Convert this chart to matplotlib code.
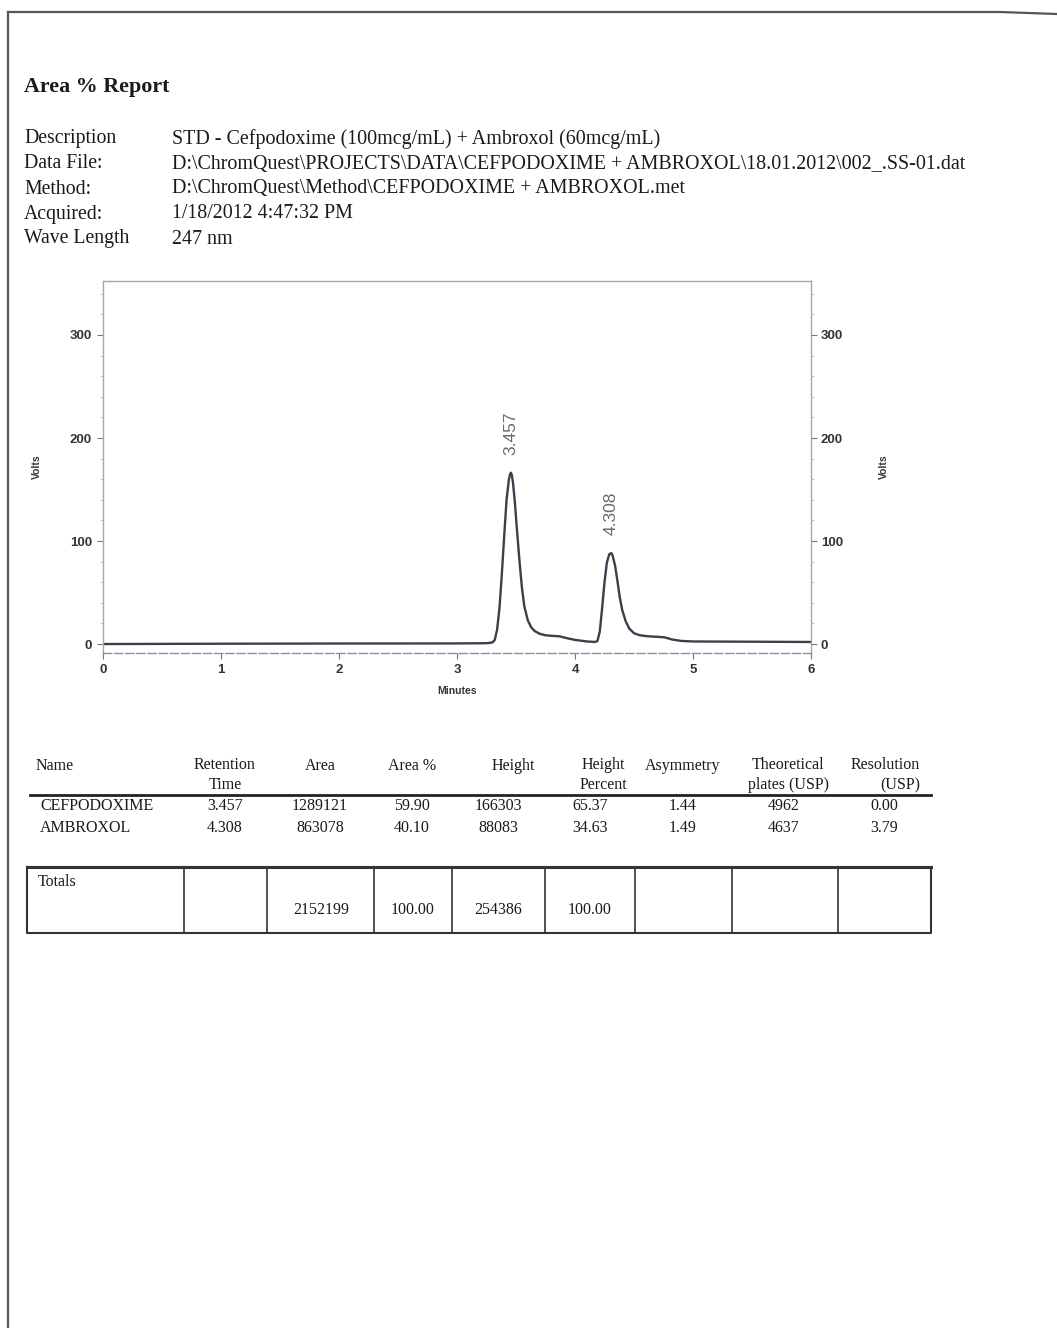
import matplotlib
matplotlib.use("Agg")
import matplotlib.pyplot as plt
from matplotlib.ticker import MultipleLocator

W, H = 1057, 1328

# ---------------- data ----------------
title = "Area % Report"
info_labels = ["Description", "Data File:", "Method:", "Acquired:", "Wave Length"]
info_values = [
    "STD - Cefpodoxime (100mcg/mL) + Ambroxol (60mcg/mL)",
    "D:\\ChromQuest\\PROJECTS\\DATA\\CEFPODOXIME + AMBROXOL\\18.01.2012\\002_.SS-01.dat",
    "D:\\ChromQuest\\Method\\CEFPODOXIME + AMBROXOL.met",
    "1/18/2012 4:47:32 PM",
    "247 nm",
]

# chromatogram trace (minutes, volts)
trace_t = [0.0, 1.0, 2.0, 3.0, 3.25, 3.30, 3.32, 3.34, 3.36, 3.38, 3.40, 3.42, 3.44, 3.45,
           3.457, 3.465, 3.475, 3.49, 3.51, 3.53, 3.55, 3.57, 3.60, 3.63, 3.66, 3.70, 3.75,
           3.80, 3.87, 3.92, 4.00, 4.10, 4.17, 4.19, 4.21, 4.23, 4.25, 4.27, 4.29, 4.30,
           4.308, 4.315, 4.325, 4.34, 4.36, 4.38, 4.40, 4.43, 4.46, 4.50, 4.55, 4.62, 4.70,
           4.76, 4.82, 4.90, 5.00, 6.00]
trace_v = [0.0, 0.3, 0.5, 0.6, 0.8, 1.5, 4, 14, 35, 68, 105, 140, 160, 165,
           166.3, 164, 156, 138, 108, 80, 55, 37, 23, 16, 12.5, 10, 8.5,
           8, 7.5, 6, 4, 2.5, 2, 3, 12, 35, 60, 79, 87, 88,
           88.1, 87, 83, 76, 61, 45, 33, 22, 15, 10.5, 8.5, 7.5, 7,
           6.5, 4.5, 3, 2.5, 2]
peak_times = [3.457, 4.308]
peak_heights = [166.3, 88.1]
x_ticks = [0, 1, 2, 3, 4, 5, 6]
y_ticks = [0, 100, 200, 300]

col_headers = ["Name", "Retention\nTime", "Area", "Area %", "Height", "Height\nPercent",
               "Asymmetry", "Theoretical\nplates (USP)", "Resolution\n(USP)"]
names = ["CEFPODOXIME", "AMBROXOL"]
ret_time = ["3.457", "4.308"]
area = ["1289121", "863078"]
area_pct = ["59.90", "40.10"]
height = ["166303", "88083"]
height_pct = ["65.37", "34.63"]
asymmetry = ["1.44", "1.49"]
plates = ["4962", "4637"]
resolution = ["0.00", "3.79"]
totals_label = "Totals"
totals = ["", "", "2152199", "100.00", "254386", "100.00", "", "", ""]

# ---------------- figure ----------------
fig = plt.figure(figsize=(W / 100, H / 100), dpi=100)
fig.patch.set_facecolor("white")

# overlay axes in pixel coordinates for page text
pg = fig.add_axes([0, 0, 1, 1])
pg.set_xlim(0, W)
pg.set_ylim(H, 0)
pg.axis("off")

serif = "Liberation Serif"
sans = "Liberation Sans"
ink = "#1a1a1a"

# page border (scan)
pg.plot([8, 8], [12, H], color="#555555", lw=1.6)
pg.plot([8, 1000, 1057], [12, 12, 14], color="#555555", lw=1.6)

pg.text(24, 87, title, family=serif, fontsize=15.8, fontweight="bold", color=ink, va="center")
info_y = [139, 164, 189, 214, 239]
for lab, val, yy in zip(info_labels, info_values, info_y):
    pg.text(24, yy, lab, family=serif, fontsize=14.2, color=ink, va="center")
    pg.text(172, yy, val, family=serif, fontsize=14.4, color=ink, va="center")

# ---------------- chromatogram ----------------
ax = fig.add_axes([103 / W, 1 - 653 / H, (811 - 103) / W, (653 - 281) / H])
ax.plot(trace_t, trace_v, color="#3a3f4c", lw=1.7, solid_joinstyle="round")
ax.set_xlim(0, 6)
ax.set_ylim(-8.7, 352.4)
ax.set_xticks(x_ticks)
ax.set_yticks(y_ticks)
ax.yaxis.set_minor_locator(MultipleLocator(20))
for sp in ax.spines.values():
    sp.set_color("#a8a8a8")
    sp.set_linewidth(1.0)
ax.spines["bottom"].set_linestyle((0, (6, 2)))
ax.spines["bottom"].set_color("#8a90a8")
ax.tick_params(axis="both", which="major", length=4, width=0.8, color="#777777",
               labelsize=9.5, labelcolor="#333333", pad=4)
ax.tick_params(axis="y", which="minor", length=2, width=0.6, color="#bbbbbb")
for lbl in ax.get_xticklabels() + ax.get_yticklabels():
    lbl.set_family(sans)
    lbl.set_fontweight("bold")
ax.set_xlabel("Minutes", family=sans, fontsize=7.5, fontweight="bold", color="#333333", labelpad=7)
ax.set_ylabel("Volts", family=sans, fontsize=7.5, fontweight="bold", color="#333333", labelpad=20)

ax2 = ax.twinx()
ax2.set_ylim(ax.get_ylim())
ax2.set_yticks(y_ticks)
ax2.yaxis.set_minor_locator(MultipleLocator(20))
for sp in ax2.spines.values():
    sp.set_visible(False)
ax2.tick_params(axis="y", which="major", length=4, width=0.8, color="#777777",
                labelsize=9.5, labelcolor="#333333", pad=3)
ax2.tick_params(axis="y", which="minor", length=2, width=0.6, color="#bbbbbb")
for lbl in ax2.get_yticklabels():
    lbl.set_family(sans)
    lbl.set_fontweight("bold")
ax2.set_ylabel("Volts", family=sans, fontsize=7.5, fontweight="bold", color="#333333", labelpad=26,
               rotation=90)

for t, h in zip(peak_times, peak_heights):
    ax.annotate(f"{t:.3f}", xy=(t, h), xytext=(0, 13), textcoords="offset points",
                rotation=90, ha="center", va="bottom", family=sans, fontsize=12.5,
                color="#6a6a6a")

# ---------------- results table ----------------
hdr_fs = 11.5
row_fs = 11.5
hdr_x = [36, 225, 320, 412, 513, 603, 683, 788, 920]
hdr_ha = ["left", "center", "center", "center", "center", "center", "center", "center", "right"]
for txt, xx, ha in zip(col_headers, hdr_x, hdr_ha):
    lines = txt.split("\n")
    if len(lines) == 1:
        pg.text(xx, 766, lines[0], family=serif, fontsize=hdr_fs, color=ink, ha=ha, va="center")
    else:
        pg.text(xx, 765, lines[0], family=serif, fontsize=hdr_fs, color=ink, ha=ha, va="center")
        pg.text(xx, 785, lines[1], family=serif, fontsize=hdr_fs, color=ink, ha=ha, va="center")
pg.plot([30, 931], [795, 795], color="#222222", lw=2.0)

cols = [names, ret_time, area, area_pct, height, height_pct, asymmetry, plates, resolution]
col_x = [40, 225, 320, 412, 498, 590, 683, 784, 884]
col_ha = ["left"] + ["center"] * 8
row_y = [806, 828]
for col, xx, ha in zip(cols, col_x, col_ha):
    for v, yy in zip(col, row_y):
        pg.text(xx, yy, v, family=serif, fontsize=row_fs, color=ink, ha=ha, va="center")

# totals box
pg.plot([27, 931, 931, 27, 27], [867, 867, 933, 933, 867], color="#333333", lw=1.5)
pg.plot([27, 931], [867, 867], color="#333333", lw=2.2)
sep_x = [184, 267, 374, 452, 545, 635, 732, 838]
for xx in sep_x:
    pg.plot([xx, xx], [867, 933], color="#333333", lw=1.2)
pg.text(38, 882, totals_label, family=serif, fontsize=row_fs, color=ink, ha="left", va="center")
tot_x = [0, 0, 321, 413, 498, 590, 0, 0, 0]
for v, xx in zip(totals, tot_x):
    if v:
        pg.text(xx, 910, v, family=serif, fontsize=row_fs, color=ink, ha="center", va="center")

fig.savefig("out.png", dpi=100, facecolor="white")
